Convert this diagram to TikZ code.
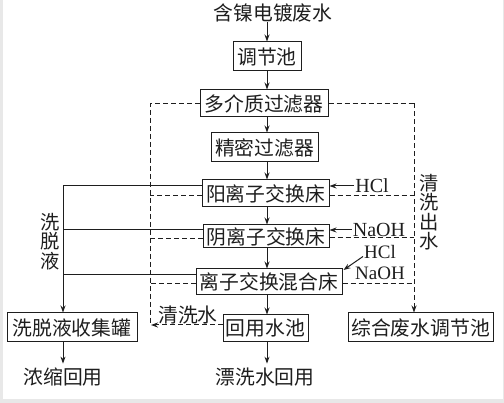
\documentclass[tikz,border=0pt]{standalone}
\usepackage{fontspec}
\setmainfont{Liberation Serif}
\newfontfamily\cjk{Noto Sans CJK SC}
\usetikzlibrary{arrows.meta}
\definecolor{frame}{HTML}{E8E8E8}
\definecolor{ink}{HTML}{1E1E1E}
\begin{document}
\begin{tikzpicture}[x=1pt,y=-1pt,
  box/.style={draw=ink, line width=1pt, inner sep=0pt, text=ink, font=\cjk\fontsize{19.8}{20}\selectfont},
  lbl/.style={inner sep=0pt, text=ink, font=\cjk\fontsize{19.8}{20}\selectfont},
  vlbl/.style={inner sep=0pt, text=ink, align=center, font=\cjk\fontsize{19.3}{19.4}\selectfont},
  chem/.style={inner sep=0pt, text=ink, font=\fontsize{20}{20}\selectfont},
  chems/.style={inner sep=0pt, text=ink, font=\fontsize{19}{19}\selectfont},
  ln/.style={draw=ink, line width=1pt},
  arr/.style={ln, -{Stealth[length=7pt,width=5pt]}},
  dline/.style={ln, dash pattern=on 5pt off 3pt}]
\fill[frame] (0,0) rectangle (504,403);
\fill[white] (3,0) rectangle (503,399);
\useasboundingbox (0,0) rectangle (504,403);
% spine coordinates
\coordinate (sp) at (267,0);
\coordinate (L) at (63,0);
\coordinate (D) at (150,0);
\coordinate (R) at (414,0);
% nodes
\node[lbl] (t) at (273,13) {含镍电镀废水};
\node[box, minimum width=68pt, minimum height=29pt] (n1) at (267,56.5) {调节池};
\node[box, minimum width=128pt, minimum height=27pt] (n2) at (264,103.5) {多介质过滤器};
\node[box, minimum width=107pt, minimum height=29pt] (n3) at (264.5,147.5) {精密过滤器};
\node[box, minimum width=127pt, minimum height=27pt] (n4) at (265.5,193.5) {阳离子交换床};
\node[box, minimum width=126pt, minimum height=23pt] (n5) at (266,236.5) {阴离子交换床};
\node[box, minimum width=146pt, minimum height=26pt] (n6) at (269,282) {离子交换混合床};
\node[box, minimum width=130pt, minimum height=29pt] (n7) at (72,327.5) {洗脱液收集罐};
\node[box, minimum width=85pt, minimum height=27pt] (n8) at (265.5,328.5) {回用水池};
\node[box, minimum width=145pt, minimum height=29pt] (n9) at (420.5,327.5) {综合废水调节池};
\node[lbl] (c1) at (63,377) {浓缩回用};
\node[lbl] (c2) at (265,377) {漂洗水回用};
\node[lbl] (qs) at (188,315) {清洗水};
\node[vlbl] (v1) at (50,241.5) {洗\\脱\\液};
\node[vlbl] (v2) at (429,212) {清\\洗\\出\\水};
\node[chem] (h1) at (372,186) {HCl};
\node[chem] (h2) at (379,230) {NaOH};
\node[chems] (h3) at (380,252.5) {HCl};
\node[chems] (h4) at (380,273.5) {NaOH};
% main flow
\draw[arr] (t.south -| sp) -- (sp |- n1.north);
\draw[arr] (sp |- n1.south) -- (sp |- n2.north);
\draw[arr] (sp |- n2.south) -- (sp |- n3.north);
\draw[arr] (sp |- n3.south) -- (sp |- n4.north);
\draw[arr] (sp |- n4.south) -- (sp |- n5.north);
\draw[arr] (sp |- n5.south) -- (sp |- n6.north);
\draw[arr] (sp |- n6.south) -- (sp |- n8.north);
\draw[arr] (sp |- n8.south) -- ([yshift=4pt]sp |- c2.north);
% elution lines (solid)
\coordinate (a4) at ([yshift=7.5pt]n4.west);
\coordinate (a5) at ([yshift=6.5pt]n5.west);
\coordinate (a6) at ([yshift=7pt]n6.west);
\draw[ln] (a4) -- (a4 -| L);
\draw[ln] (a5) -- (a5 -| L);
\draw[ln] (a6) -- (a6 -| L);
\draw[arr] (a4 -| L) -- (L |- n7.north);
\draw[arr] (L |- n7.south) -- ([yshift=4pt]L |- c1.north);
% rinse water lines (dashed, left)
\coordinate (b4) at ([yshift=-2.5pt]n4.west);
\coordinate (b5) at ([yshift=-2.5pt]n5.west);
\coordinate (b6) at ([yshift=-1.5pt]n6.west);
\coordinate (b8) at ([yshift=3.5pt]n8.west);
\draw[dline] (n2.west) -- (n2.west -| D) -- (D |- b8);
\draw[dline] (b4) -- (b4 -| D);
\draw[dline] (b5) -- (b5 -| D);
\draw[dline] (b6) -- (b6 -| D);
\draw[dline, -{Stealth[length=7pt,width=5pt]}] (b8) -- ([xshift=1pt]b8 -| D);
% rinse water lines (dashed, right)
\coordinate (e4) at ([yshift=-2.5pt]n4.east);
\coordinate (e5) at ([yshift=-1.5pt]n5.east);
\coordinate (e6) at ([yshift=-1.5pt]n6.east);
\draw[dline] (n2.east) -- (n2.east -| R);
\draw[dline] (e4) -- (e4 -| R);
\draw[dline] (e5) -- (e5 -| R);
\draw[dline] (e6) -- (e6 -| R);
\draw[dline, -{Stealth[length=7pt,width=5pt]}] (n2.east -| R) -- (R |- n9.north);
% chemicals
\draw[arr] ([xshift=-1pt]h1.west) -- (h1.west -| n4.east);
\draw[arr] ([xshift=-1pt]h2.west) -- (h2.west -| n5.east);
\draw[arr] ([xshift=-1pt,yshift=-4pt]h3.west) -- ([xshift=1pt,yshift=-1.5pt]n6.north east);
\end{tikzpicture}
\end{document}
